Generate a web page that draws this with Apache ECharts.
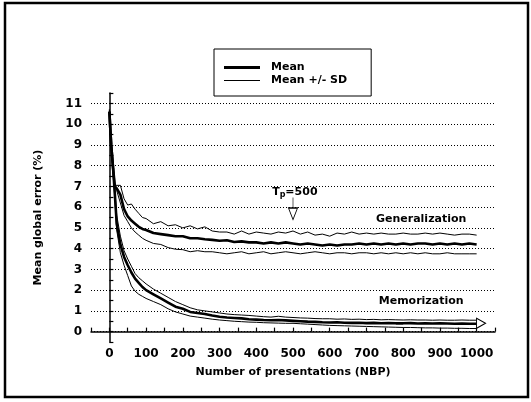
<!DOCTYPE html>
<html>
<head>
<meta charset="utf-8">
<script src="https://cdn.jsdelivr.net/npm/echarts@6/dist/echarts.min.js"></script>
<style>
  html, body { margin: 0; padding: 0; background: #fff; }
  #main { width: 531px; height: 402px; }
</style>
</head>
<body>
<div id="main"></div>
<script>
// number of presentations (x positions)
var nbp = [0,5,10,15,20,30,40,50,60,70,80,90,100,
  120,140,160,180,200,220,240,260,280,300,320,340,360,380,400,420,440,460,480,500,
  520,540,560,580,600,620,640,660,680,700,720,740,760,780,800,820,840,860,880,900,920,940,960,980,1000];

// generalization error (%)
var genMean = [10.6,9.0,7.9,7.0,6.9,6.6,5.9,5.55,5.35,5.2,5.05,4.95,4.9,
  4.75,4.7,4.65,4.6,4.6,4.5,4.5,4.45,4.42,4.38,4.4,4.32,4.35,4.3,4.3,4.25,4.3,4.25,4.3,4.25,
  4.2,4.25,4.2,4.15,4.2,4.15,4.2,4.2,4.25,4.2,4.25,4.2,4.25,4.2,4.25,4.2,4.25,4.25,4.2,4.25,4.2,4.25,4.2,4.25,4.2];
var genUpper = [10.7,9.1,8.0,7.05,7.0,7.05,6.4,6.1,6.15,5.9,5.7,5.5,5.45,
  5.2,5.3,5.1,5.15,5.0,5.1,4.95,5.05,4.85,4.8,4.8,4.7,4.85,4.7,4.8,4.75,4.7,4.8,4.75,4.85,
  4.7,4.8,4.65,4.7,4.6,4.75,4.7,4.8,4.7,4.75,4.7,4.75,4.7,4.7,4.75,4.7,4.7,4.75,4.7,4.75,4.7,4.65,4.7,4.7,4.65];
var genLower = [10.5,8.9,7.8,6.95,6.8,6.2,5.6,5.3,5.0,4.8,4.65,4.5,4.4,
  4.25,4.2,4.05,3.97,3.95,3.85,3.9,3.85,3.85,3.8,3.75,3.8,3.85,3.75,3.8,3.85,3.75,3.8,3.85,3.8,
  3.75,3.8,3.85,3.8,3.75,3.8,3.8,3.75,3.8,3.8,3.75,3.8,3.75,3.8,3.75,3.8,3.75,3.8,3.75,3.75,3.8,3.75,3.75,3.75,3.75];

// memorization error (%)
var memMean = [10.6,9.0,7.9,6.6,5.2,4.2,3.6,3.2,2.85,2.55,2.35,2.15,2.0,
  1.8,1.6,1.4,1.2,1.1,0.95,0.9,0.85,0.78,0.72,0.68,0.66,0.64,0.6,0.58,0.56,0.55,0.56,0.54,0.52,
  0.5,0.48,0.47,0.45,0.44,0.45,0.43,0.42,0.43,0.41,0.42,0.4,0.41,0.4,0.4,0.41,0.39,0.4,0.39,0.4,0.39,0.38,0.39,0.38,0.38];
var memUpper = [10.7,9.1,8.0,6.8,5.6,4.6,3.9,3.5,3.15,2.8,2.6,2.45,2.3,
  2.05,1.85,1.65,1.45,1.3,1.15,1.05,1.0,0.95,0.9,0.85,0.82,0.8,0.78,0.75,0.72,0.7,0.74,0.7,0.68,
  0.66,0.65,0.63,0.62,0.62,0.6,0.61,0.59,0.6,0.58,0.59,0.57,0.58,0.57,0.56,0.57,0.56,0.56,0.55,0.56,0.55,0.55,0.56,0.55,0.55];
var memLower = [10.5,8.9,7.8,6.4,4.9,3.8,3.2,2.7,2.2,1.95,1.8,1.7,1.6,
  1.45,1.3,1.1,0.95,0.85,0.75,0.7,0.65,0.6,0.56,0.53,0.5,0.48,0.46,0.45,0.43,0.42,0.41,0.4,0.4,
  0.38,0.36,0.34,0.32,0.3,0.29,0.28,0.27,0.26,0.25,0.24,0.23,0.22,0.21,0.2,0.2,0.19,0.18,0.18,0.17,0.17,0.16,0.16,0.15,0.15];

var gridValues = [0,1,2,3,4,5,6,7,8,9,10,11];

var FONT = 'DejaVu Sans';

function pairs(ys) {
  return nbp.map(function (x, i) { return [x, ys[i]]; });
}

function lineSeries(name, ys, width) {
  return {
    name: name,
    type: 'line',
    data: pairs(ys),
    showSymbol: false,
    symbol: 'none',
    lineStyle: { color: '#000', width: width },
    itemStyle: { color: '#000' },
    z: 3
  };
}

var chart = echarts.init(document.getElementById('main'), null, { renderer: 'canvas' });

var series = [
  lineSeries('Mean +/- SD', genLower, 1),
  lineSeries('Mean +/- SD', genUpper, 1),
  lineSeries('Mean', genMean, 2.6),
  lineSeries('Mean +/- SD', memLower, 1),
  lineSeries('Mean +/- SD', memUpper, 1),
  lineSeries('Mean', memMean, 2.6)
];

// dotted horizontal grid lines
series[0].markLine = {
  silent: true,
  symbol: ['none', 'none'],
  label: { show: false },
  lineStyle: { color: '#000', type: [1, 2], width: 1 },
  data: gridValues.map(function (v) { return { yAxis: v }; }),
  z: 1
};

// text labels and arrows
var txt = { color: '#000', fontFamily: FONT, fontWeight: 'bold', fontSize: 11 };
series[2].markPoint = {
  silent: true,
  data: [
    {
      coord: [505, 6.7], symbol: 'circle', symbolSize: 1,
      itemStyle: { color: 'rgba(0,0,0,0)' },
      label: {
        show: true, position: 'inside', formatter: 'T{s|p}=500',
        color: '#000', fontFamily: FONT, fontWeight: 'bold', fontSize: 11,
        rich: { s: { fontSize: 8, fontFamily: FONT, fontWeight: 'bold', color: '#000', verticalAlign: 'bottom', padding: [5, 0, 0, 0] } }
      }
    },
    {
      coord: [500, 5.93], symbol: 'path://M4,0L4,10M0,10L8,10L4,21Z', symbolSize: [9, 22],
      itemStyle: { color: 'rgba(0,0,0,0)', borderColor: '#000', borderWidth: 1 },
      label: { show: false }
    },
    {
      coord: [849, 5.4], symbol: 'circle', symbolSize: 1,
      itemStyle: { color: 'rgba(0,0,0,0)' },
      label: Object.assign({ show: true, position: 'inside', formatter: 'Generalization' }, txt)
    },
    {
      coord: [849, 1.45], symbol: 'circle', symbolSize: 1,
      itemStyle: { color: 'rgba(0,0,0,0)' },
      label: Object.assign({ show: true, position: 'inside', formatter: 'Memorization' }, txt)
    },
    {
      coord: [1012, 0.4], symbol: 'path://M0,0L10,5L0,10Z', symbolSize: [9, 10],
      itemStyle: { color: '#fff', borderColor: '#000', borderWidth: 1 },
      label: { show: false }
    }
  ]
};

chart.setOption({
  animation: false,
  backgroundColor: '#fff',
  textStyle: { fontFamily: FONT },
  graphic: [{
    type: 'rect',
    shape: { x: 5, y: 3, width: 523, height: 394 },
    style: { fill: 'none', stroke: '#000', lineWidth: 2.5 },
    silent: true
  }],
  legend: {
    data: [
      { name: 'Mean', icon: 'path://M0,0L36,0L36,3L0,3Z', itemStyle: { color: '#000', borderWidth: 0 } },
      { name: 'Mean +/- SD', icon: 'path://M0,0L36,0L36,1L0,1Z', itemStyle: { color: '#000', borderWidth: 0 } }
    ],
    orient: 'vertical',
    left: 214,
    top: 49,
    padding: [13, 24, 10, 10],
    itemWidth: 36,
    itemHeight: 12,
    itemGap: 2,
    borderColor: '#000',
    borderWidth: 1,
    selectedMode: false,
    textStyle: { color: '#000', fontFamily: FONT, fontWeight: 'bold', fontSize: 11, padding: [0, 0, 0, 6] }
  },
  grid: { left: 91, right: 36, top: 93, bottom: 60, containLabel: false },
  xAxis: {
    type: 'value',
    min: -50, max: 1050, interval: 50,
    name: 'Number of presentations (NBP)',
    nameLocation: 'middle', nameGap: 25,
    nameTextStyle: { color: '#000', fontFamily: FONT, fontWeight: 'bold', fontSize: 11 },
    axisLine: { show: true, lineStyle: { color: '#000', width: 1.5 } },
    axisTick: { show: true, inside: true, length: 4, lineStyle: { color: '#000', width: 1.2 } },
    splitLine: { show: false },
    axisLabel: {
      color: '#000', fontFamily: FONT, fontWeight: 'bold', fontSize: 12, margin: 6,
      formatter: function (v) { return (v >= 0 && v <= 1000 && v % 100 === 0) ? String(v) : ''; }
    }
  },
  yAxis: {
    type: 'value',
    min: -0.5, max: 11.5, interval: 0.5,
    name: 'Mean global error (%)',
    nameLocation: 'middle', nameGap: 47, nameRotate: 90,
    nameTextStyle: { color: '#000', fontFamily: FONT, fontWeight: 'bold', fontSize: 11 },
    axisLine: { show: true, lineStyle: { color: '#000', width: 1.5 } },
    axisTick: { show: true, inside: true, length: 4, lineStyle: { color: '#000', width: 1.2 } },
    splitLine: { show: false },
    axisLabel: {
      color: '#000', fontFamily: FONT, fontWeight: 'bold', fontSize: 12, margin: 9,
      formatter: function (v) { return (v >= 0 && v <= 11 && v % 1 === 0) ? String(v) : ''; }
    }
  },
  series: series
});
</script>
</body>
</html>
